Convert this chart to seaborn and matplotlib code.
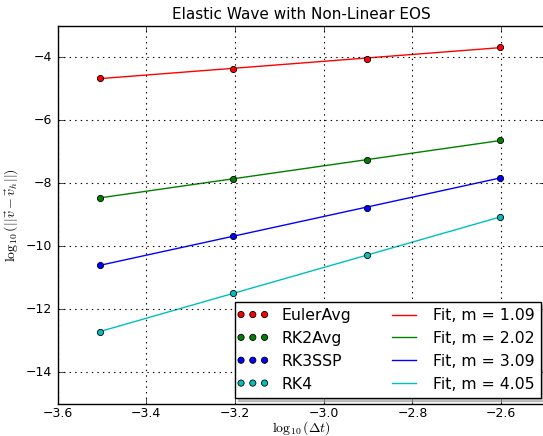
import numpy as np
import matplotlib
matplotlib.use("Agg")
import matplotlib.pyplot as plt
from matplotlib.legend_handler import HandlerPathCollection
from matplotlib.collections import PathCollection
import seaborn as sns

# ---- data ----
log_dt = [-3.50515, -3.20412, -2.90309, -2.60206]
methods = ["EulerAvg", "RK2Avg", "RK3SSP", "RK4"]
err_euler = [-4.67, -4.37, -4.06, -3.68]
err_rk2 = [-8.47, -7.87, -7.26, -6.65]
err_rk3 = [-10.61, -9.69, -8.78, -7.83]
err_rk4 = [-12.72, -11.50, -10.29, -9.08]
slopes = [1.09, 2.02, 3.09, 4.05]
colors = ["r", "g", "b", "c"]

series = [err_euler, err_rk2, err_rk3, err_rk4]

sns.set_style("white")
plt.style.use("classic")
plt.rcParams.update({
    "font.family": ["DejaVu Sans"],
    "font.size": 10,
    "mathtext.fontset": "cm",
    "axes.unicode_minus": True,
    "figure.facecolor": "white",
    "savefig.facecolor": "white",
    "xtick.direction": "in",
    "ytick.direction": "in",
    "xtick.top": True,
    "ytick.right": True,
})

fig = plt.figure(figsize=(5.43, 4.36), dpi=100)
ax = fig.add_axes([0.106, 0.0745, 0.8986, 0.867])

scat_handles = []
line_handles = []
for name, ys, m, c in zip(methods, series, slopes, colors):
    sns.scatterplot(x=log_dt, y=ys, color=c, s=20, edgecolor="black",
                    linewidth=0.6, ax=ax, label=name, zorder=3, legend=False)
    scat_handles.append(ax.collections[-1])
    p = np.polyfit(log_dt, ys, 1)
    xf = np.array([log_dt[0], log_dt[-1]])
    sns.lineplot(x=xf, y=np.polyval(p, xf), color=c, linewidth=1.0,
                 ax=ax, label=f"Fit, m = {m:.2f}", legend=False)
    line_handles.append(ax.lines[-1])

ax.set_xlim(-3.6, -2.5)
ax.set_ylim(-15, -3)
ax.set_xticks(np.arange(-3.6, -2.55, 0.2))
ax.set_yticks(np.arange(-14, -3.5, 2))
ax.grid(True, color="black", linestyle=":", linewidth=0.8)
ax.tick_params(axis="x", labelsize=9, length=4, pad=2.5)
ax.tick_params(axis="y", labelsize=9, length=4, pad=4)
for sp in ax.spines.values():
    sp.set_color("black")
    sp.set_linewidth(1.0)

ax.set_title("Elastic Wave with Non-Linear EOS", fontsize=11, pad=5)
ax.set_xlabel(r"$\log_{10}(\Delta t)$", fontsize=10)
ax.xaxis.set_label_coords(0.5, -0.041)
ax.set_ylabel(r"$\log_{10}(||\vec{v}-\vec{v}_h||)$", fontsize=10, labelpad=4)

handles = scat_handles + line_handles
labels = methods + [f"Fit, m = {m:.2f}" for m in slopes]
leg = ax.legend(handles, labels, ncol=2, loc="lower right",
                bbox_to_anchor=(0.991, 0.015), borderaxespad=0.0,
                shadow={"color": "0.55"}, fancybox=False, fontsize=11.3,
                scatterpoints=3, scatteryoffsets=[0.5], numpoints=1,
                handlelength=1.5, columnspacing=2.6, labelspacing=0.5,
                handletextpad=1.1, borderpad=0.4,
                handler_map={PathCollection: HandlerPathCollection(marker_pad=0.0)})
leg.get_frame().set_edgecolor("black")
leg.get_frame().set_linewidth(1.0)

fig.savefig("out.png", dpi=100)
